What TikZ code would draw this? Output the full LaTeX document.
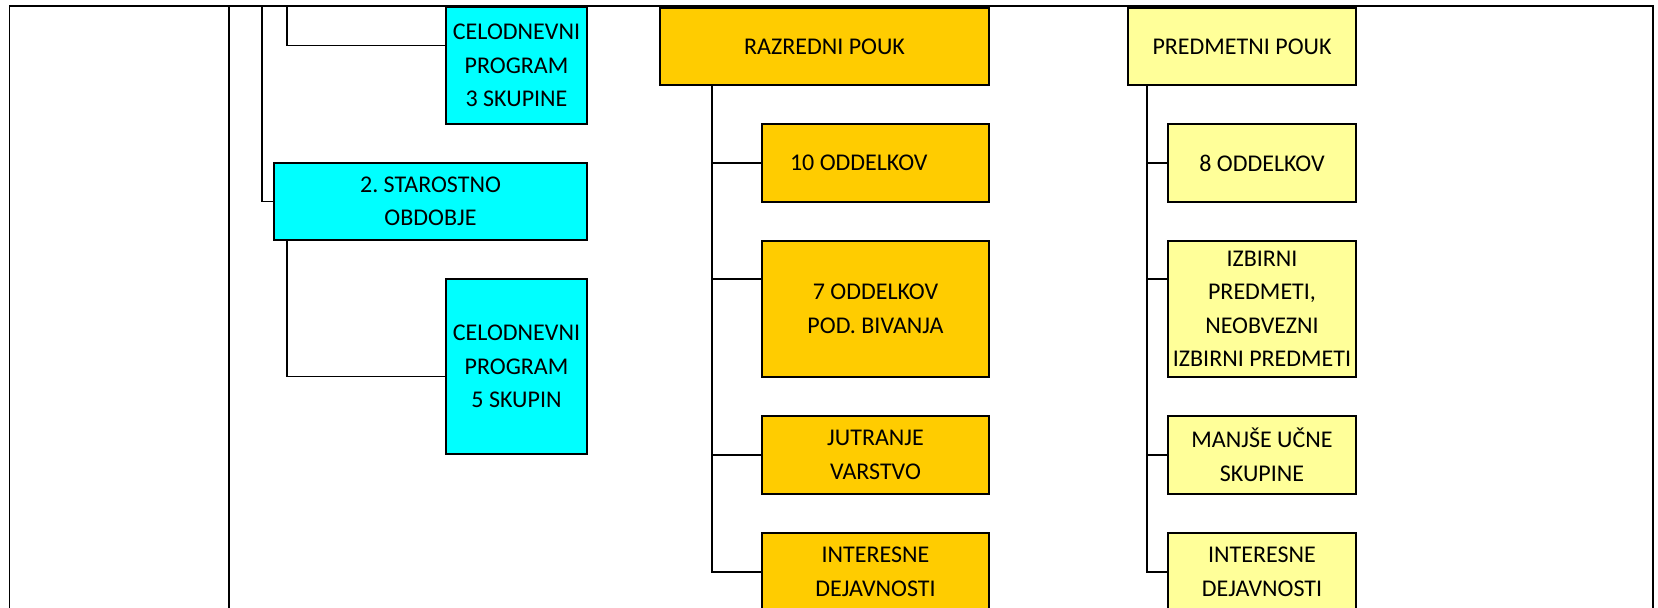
\documentclass[tikz,border=0pt]{standalone}
\usepackage{fontspec}
\setmainfont{Carlito}
\usetikzlibrary{positioning}
\definecolor{aqua}{HTML}{00FFFF}
\definecolor{gold}{HTML}{FFCC00}
\definecolor{paleyellow}{HTML}{FFFF99}
\frenchspacing

\begin{document}
\begin{tikzpicture}[
    x=0.5pt, y=-0.5pt,
    node distance=19.5pt,
    every node/.style={draw, rectangle, line width=0.9pt, inner sep=2pt, outer sep=0pt, align=center, font=\fontsize{12pt}{16.75pt}\selectfont},
    cyanbox/.style={fill=aqua, minimum width=70.5pt},
    goldbox/.style={fill=gold, minimum width=113.5pt, minimum height=39pt},
    paleybox/.style={fill=paleyellow, minimum width=94pt, minimum height=39pt},
    conn/.style={line width=0.85pt}
]
\clip (0,0) rectangle (1658,608);

% frame
\coordinate (fl) at (9.5,6.3);
\coordinate (fm) at (229,6.3);
\coordinate (fr) at (1653,6.3);
\draw[conn] (9.5,620) -- (fl) -- (fr) -- (1653,620);
\draw[conn] (fm) -- (229,620);

% left column
\node[cyanbox, minimum height=58.5pt, anchor=north east] (c1) at (587,7) {CELODNEVNI\\PROGRAM\\3 SKUPINE};
\node[cyanbox, minimum width=156.5pt, minimum height=38.5pt, below left=19.5pt and 0pt of c1.south east] (c2) {2. STAROSTNO\\OBDOBJE};
\node[cyanbox, minimum height=87.5pt, below left=19.5pt and 0pt of c2.south east] (c3) {CELODNEVNI\\PROGRAM\\5 SKUPIN};

% razredni pouk
\node[goldbox, minimum width=164.5pt, minimum height=38.5pt, anchor=north east] (r0) at (989,8) {RAZREDNI POUK};
\node[goldbox, below left=19.5pt and 0pt of r0.south east, text width=85.5pt, inner xsep=14pt, align=flush left] (r1) {10 ODDELKOV};
\node[goldbox, minimum height=68pt, below left=19.5pt and 0pt of r1.south east] (r2) {7 ODDELKOV\\POD. BIVANJA};
\node[goldbox, below left=19.5pt and 0pt of r2.south east] (r3) {JUTRANJE\\VARSTVO};
\node[goldbox, below left=19.5pt and 0pt of r3.south east] (r4) {INTERESNE\\DEJAVNOSTI};

% predmetni pouk
\node[paleybox, minimum width=114pt, minimum height=38.5pt, anchor=north east] (p0) at (1356,8) {PREDMETNI POUK};
\node[paleybox, below left=19.5pt and 0pt of p0.south east] (p1) {8 ODDELKOV};
\node[paleybox, minimum height=68pt, below left=19.5pt and 0pt of p1.south east] (p2) {IZBIRNI\\PREDMETI,\\NEOBVEZNI\\IZBIRNI PREDMETI};
\node[paleybox, below left=19.5pt and 0pt of p2.south east] (p3) {MANJŠE UČNE\\SKUPINE};
\node[paleybox, below left=19.5pt and 0pt of p3.south east] (p4) {INTERESNE\\DEJAVNOSTI};

% connectors
\coordinate (t1) at (262,6.3);
\coordinate (t2) at (287,6.3);
\draw[conn] (t1) |- (c2.west);
\draw[conn] (t2) |- ([yshift=10pt]c1.west);
\draw[conn] ([xshift=6.5pt]c2.south west) |- ([yshift=-5pt]c3.west);

\draw[conn] ([xshift=26pt]r0.south west) |- (r1.west);
\draw[conn] ([xshift=26pt]r0.south west) |- ([yshift=15pt]r2.west);
\draw[conn] ([xshift=26pt]r0.south west) |- (r3.west);
\draw[conn] ([xshift=26pt]r0.south west) |- (r4.west);

\draw[conn] ([xshift=9.5pt]p0.south west) |- (p1.west);
\draw[conn] ([xshift=9.5pt]p0.south west) |- ([yshift=15pt]p2.west);
\draw[conn] ([xshift=9.5pt]p0.south west) |- (p3.west);
\draw[conn] ([xshift=9.5pt]p0.south west) |- (p4.west);
\end{tikzpicture}
\end{document}
